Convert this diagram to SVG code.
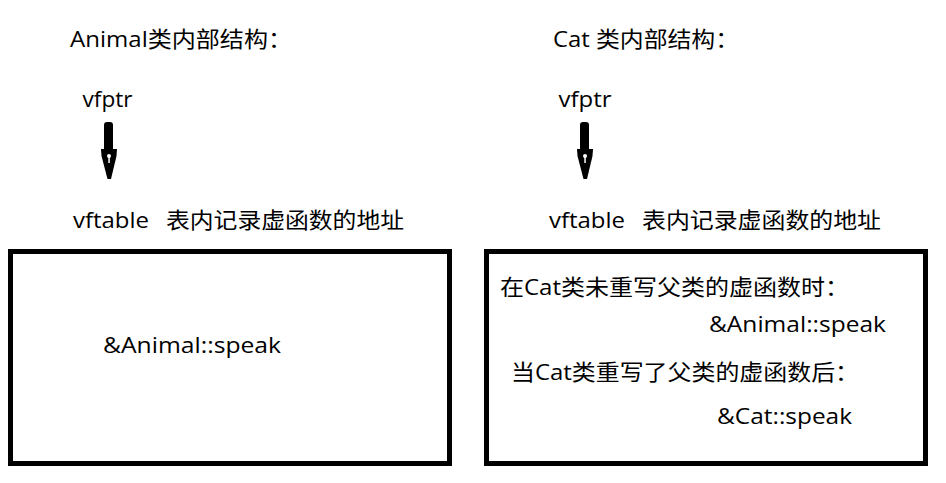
<svg xmlns="http://www.w3.org/2000/svg" width="946" height="483" viewBox="0 0 946 483">
<style>
text{font-family:"Open Sans","Noto Sans CJK SC",sans-serif;font-size:22px;fill:#000}
.box{fill:#fff;stroke:#000;stroke-width:5}
</style>
<defs>
<g id="arrow">
<rect x="104" y="122" width="9" height="31" rx="3" fill="#000"/>
<polygon points="101,149 117,149 116.5,156 111,179 107.5,179 101.5,156" fill="#000"/>
<circle cx="109" cy="156" r="2" fill="#fff"/>
<rect x="108.3" y="156" width="1.5" height="7" fill="#fff"/>
</g>
</defs>
<rect width="946" height="483" fill="#fff"/>
<g id="animal-title"><text x="70" y="47" textLength="222" lengthAdjust="spacingAndGlyphs">Animal类内部结构：</text></g>
<g id="cat-title"><text x="553" y="47" textLength="186" lengthAdjust="spacingAndGlyphs">Cat 类内部结构：</text></g>
<g id="animal-vfptr"><text x="82.5" y="107" textLength="50" lengthAdjust="spacingAndGlyphs">vfptr</text></g>
<g id="cat-vfptr"><text x="558.5" y="107" textLength="53" lengthAdjust="spacingAndGlyphs">vfptr</text></g>
<g id="animal-vftable">
<text x="73" y="228" textLength="76" lengthAdjust="spacingAndGlyphs">vftable</text>
<text x="166" y="228" textLength="238" lengthAdjust="spacingAndGlyphs">表内记录虚函数的地址</text>
</g>
<g id="cat-vftable">
<text x="549" y="228" textLength="76" lengthAdjust="spacingAndGlyphs">vftable</text>
<text x="642" y="228" textLength="239" lengthAdjust="spacingAndGlyphs">表内记录虚函数的地址</text>
</g>
<g id="animal-table">
<rect class="box" x="10.5" y="251.5" width="439" height="212"/>
<text x="103" y="353" textLength="178" lengthAdjust="spacingAndGlyphs">&amp;Animal::speak</text>
</g>
<g id="cat-table">
<rect class="box" x="486.5" y="251.5" width="439" height="212"/>
<text x="500" y="295" textLength="349" lengthAdjust="spacingAndGlyphs">在Cat类未重写父类的虚函数时：</text>
<text x="709" y="332" textLength="177" lengthAdjust="spacingAndGlyphs">&amp;Animal::speak</text>
<text x="511" y="380" textLength="348" lengthAdjust="spacingAndGlyphs">当Cat类重写了父类的虚函数后：</text>
<text x="717" y="424" textLength="135" lengthAdjust="spacingAndGlyphs">&amp;Cat::speak</text>
</g>
<g id="connectors">
<use href="#arrow"/>
<use href="#arrow" transform="translate(476,0)"/>
</g>
</svg>
